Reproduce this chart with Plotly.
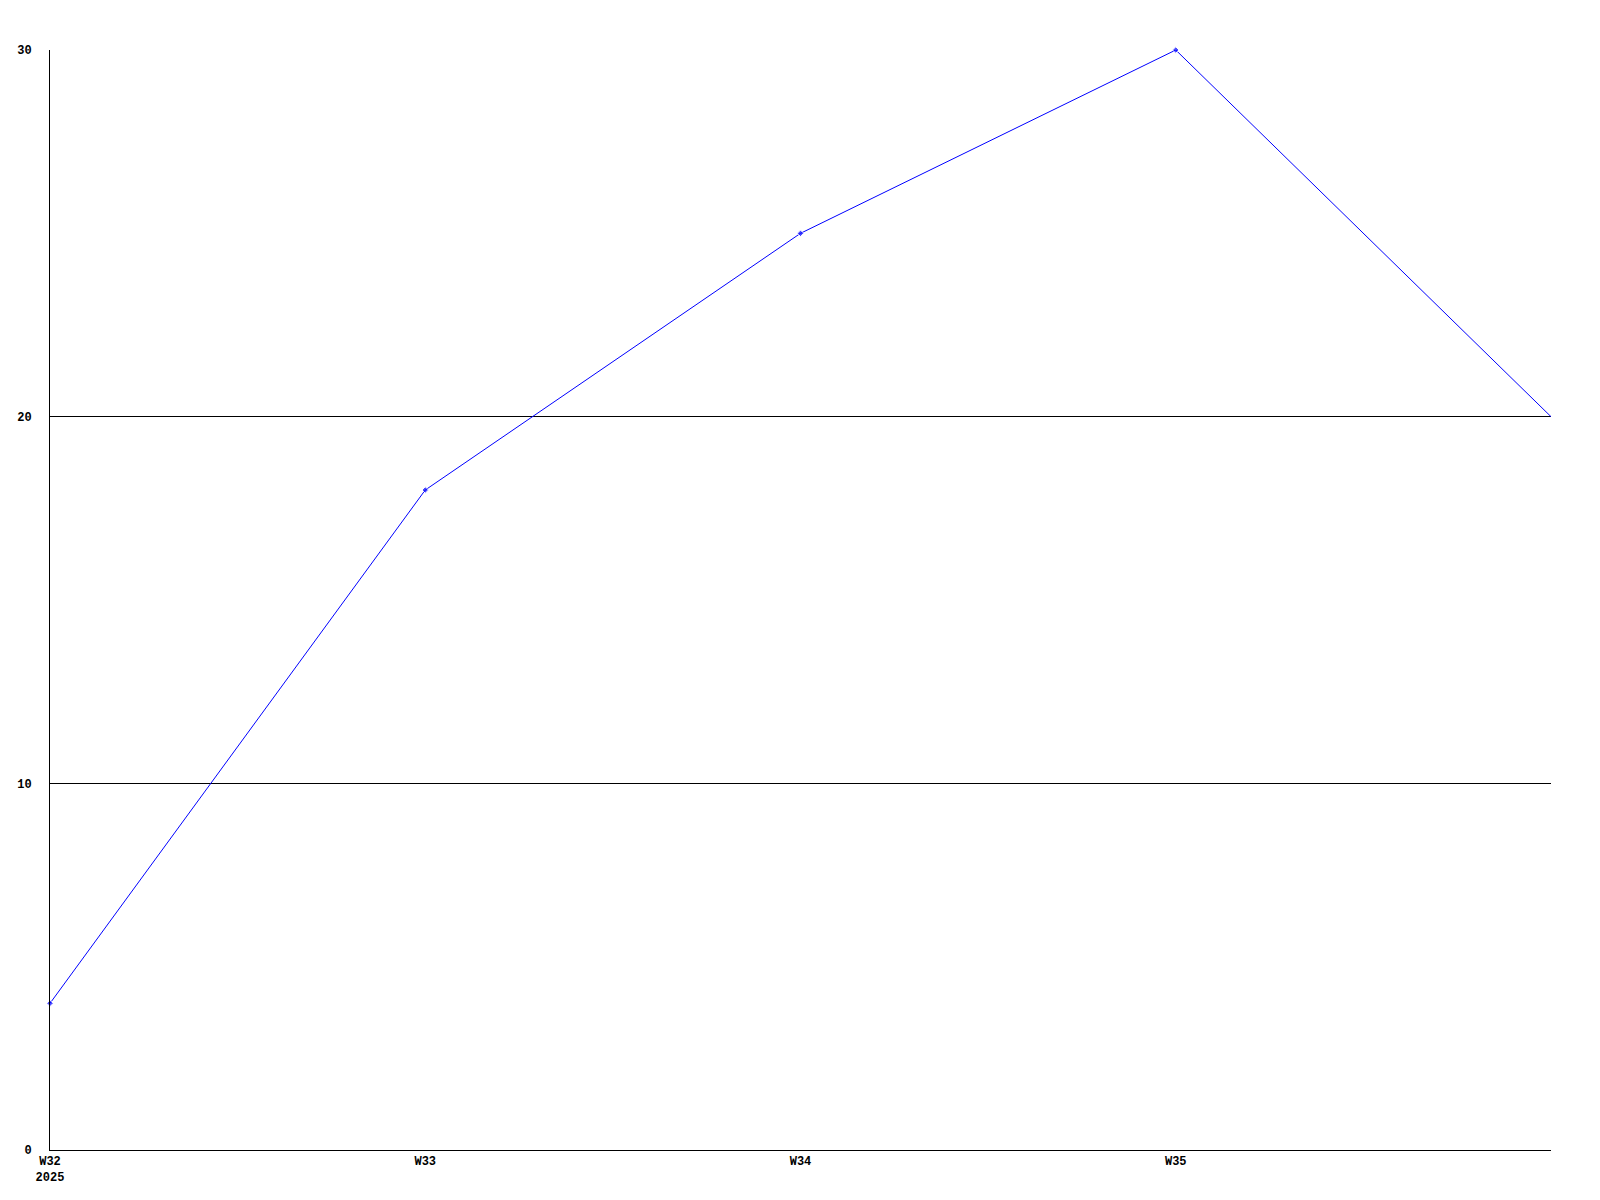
import plotly.graph_objects as go

weeks = ["W32", "W33", "W34", "W35", "W36"]
values = [4, 18, 25, 30, 20]
tick_text = ["W32<br>2025", "W33", "W34", "W35", ""]
y_ticks = [0, 10, 20, 30]

fig = go.Figure()
fig.add_trace(go.Scatter(
    x=list(range(len(weeks))), y=values, mode="lines+markers",
    line=dict(color="#0000ff", width=1),
    marker=dict(color="#0000ff", size=[5, 5, 5, 5, 0], symbol="diamond"),
    hoverinfo="skip", cliponaxis=False,
))

font = dict(family="Liberation Mono", size=12, color="black")
fig.update_layout(
    width=1600, height=1200,
    margin=dict(l=42, r=57, t=42, b=58, autoexpand=False),
    paper_bgcolor="white", plot_bgcolor="white",
    showlegend=False,
    font=font,
)
fig.update_xaxes(
    range=[0, 4], tickvals=list(range(len(weeks))), ticktext=tick_text,
    showgrid=False, zeroline=False, showline=True, linecolor="black", linewidth=1,
    ticks="", automargin=False,
    tickfont=dict(family="Liberation Mono", size=12, color="black", weight="bold"),
    fixedrange=True,
)
fig.update_yaxes(
    range=[0, 30], tickvals=y_ticks, ticktext=[str(v) for v in y_ticks],
    showgrid=True, gridcolor="black", gridwidth=1, zeroline=False,
    showline=True, linecolor="black", linewidth=1, ticks="",
    ticklabelstandoff=15, automargin=False,
    tickfont=dict(family="Liberation Mono", size=12, color="black", weight="bold"),
    fixedrange=True,
)
fig.write_html("out.html", config={"displayModeBar": False})
